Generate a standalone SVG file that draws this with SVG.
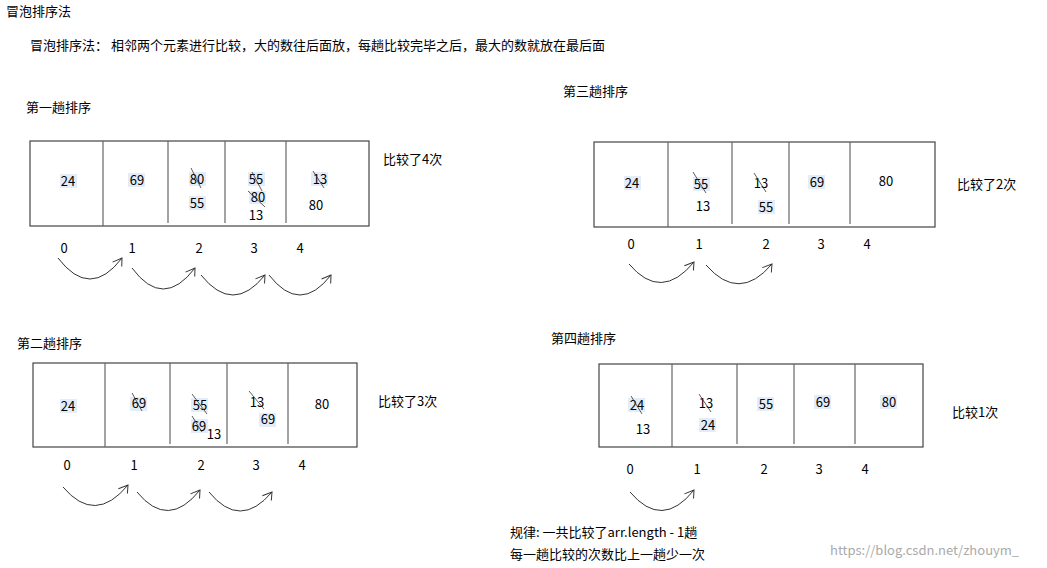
<svg xmlns="http://www.w3.org/2000/svg" width="1047" height="568" viewBox="0 0 1047 568">
<style>
text{font-family:"Noto Sans CJK SC","Liberation Sans",sans-serif;font-size:13px;fill:#000}
.n{font-size:13px;text-anchor:middle}
.h{fill:#e3ecf9}
.box{fill:none;stroke:#444;stroke-width:1.2}
.dv{stroke:#666;stroke-width:1.2}
.s{stroke:#333;stroke-width:0.8}
.arr{fill:none;stroke:#333;stroke-width:1}
.wm{fill:#aaa;font-size:13px}
</style>
<defs>
<marker id="ah" markerWidth="12" markerHeight="12" refX="10" refY="6" orient="auto" markerUnits="userSpaceOnUse">
<path d="M1,1 L10,6 L3,11" fill="none" stroke="#333" stroke-width="1"/>
</marker>
</defs>
<rect width="1047" height="568" fill="#fff"/>
<text x="6" y="16">冒泡排序法</text>
<text x="30" y="50">冒泡排序法： 相邻两个元素进行比较，大的数往后面放，每趟比较完毕之后，最大的数就放在最后面</text>

<g id="trip1">
<text x="26" y="112">第一趟排序</text>
<rect class="box" x="30" y="141" width="339" height="85"/>
<line class="dv" x1="103" y1="141" x2="103" y2="226"/><line class="dv" x1="168" y1="141" x2="168" y2="223"/><line class="dv" x1="225" y1="141" x2="225" y2="223"/><line class="dv" x1="286" y1="141" x2="286" y2="223"/>
<rect class="h" x="60" y="174" width="17" height="14"/><text class="n" x="68" y="186">24</text>
<rect class="h" x="128" y="173" width="17" height="14"/><text class="n" x="137" y="185">69</text>
<rect class="h" x="189" y="172" width="17" height="14"/><text class="n" x="197" y="184">80</text><line class="s" x1="191" y1="168" x2="201" y2="188"/>
<rect class="h" x="189" y="196" width="17" height="14"/><text class="n" x="197" y="208">55</text>
<rect class="h" x="248" y="172" width="17" height="14"/><text class="n" x="256" y="184">55</text><line class="s" x1="252" y1="172" x2="262" y2="191"/>
<rect class="h" x="249" y="191" width="17" height="13"/><text class="n" x="258" y="202">80</text><line class="s" x1="248" y1="191" x2="265" y2="207"/>
<text class="n" x="256" y="220">13</text>
<rect class="h" x="311" y="172" width="17" height="14"/><text class="n" x="320" y="184">13</text><line class="s" x1="313" y1="171" x2="324" y2="188"/>
<text class="n" x="316" y="210">80</text>
<text class="n" x="64" y="253">0</text><text class="n" x="132" y="253">1</text><text class="n" x="199" y="253">2</text><text class="n" x="254" y="253">3</text><text class="n" x="300" y="253">4</text>
<text x="383" y="164">比较了4次</text>
</g>

<g id="trip2">
<text x="17" y="348">第二趟排序</text>
<rect class="box" x="33" y="363" width="324" height="84"/>
<line class="dv" x1="105" y1="363" x2="105" y2="447"/><line class="dv" x1="170" y1="363" x2="170" y2="444"/><line class="dv" x1="227" y1="363" x2="227" y2="444"/><line class="dv" x1="288" y1="363" x2="288" y2="444"/>
<rect class="h" x="60" y="399" width="17" height="14"/><text class="n" x="68" y="411">24</text>
<rect class="h" x="130" y="397" width="17" height="14"/><text class="n" x="139" y="408">69</text><line class="s" x1="132" y1="393" x2="142" y2="411"/>
<rect class="h" x="191" y="398" width="17" height="14"/><text class="n" x="200" y="410">55</text><line class="s" x1="192" y1="394" x2="207" y2="414"/>
<rect class="h" x="191" y="419" width="17" height="14"/><text class="n" x="199" y="431">69</text><line class="s" x1="192" y1="416" x2="202" y2="432"/>
<text class="n" x="214" y="439">13</text>
<text class="n" x="257" y="407">13</text><line class="s" x1="249" y1="391" x2="264" y2="409"/>
<rect class="h" x="259" y="413" width="17" height="14"/><text class="n" x="268" y="424">69</text>
<text class="n" x="322" y="409">80</text>
<text class="n" x="67" y="470">0</text><text class="n" x="134" y="470">1</text><text class="n" x="201" y="470">2</text><text class="n" x="256" y="470">3</text><text class="n" x="302" y="470">4</text>
<text x="378" y="406">比较了3次</text>
</g>

<g id="trip3">
<text x="563" y="96">第三趟排序</text>
<rect class="box" x="594" y="142" width="341" height="85"/>
<line class="dv" x1="668" y1="142" x2="668" y2="227"/><line class="dv" x1="732" y1="142" x2="732" y2="224"/><line class="dv" x1="789" y1="142" x2="789" y2="224"/><line class="dv" x1="850" y1="142" x2="850" y2="224"/>
<rect class="h" x="624" y="176" width="17" height="14"/><text class="n" x="632" y="188">24</text>
<rect class="h" x="693" y="177" width="17" height="14"/><text class="n" x="701" y="189">55</text><line class="s" x1="693" y1="172" x2="706" y2="193"/>
<text class="n" x="703" y="211">13</text>
<text class="n" x="761" y="188">13</text><line class="s" x1="754" y1="173" x2="766" y2="192"/>
<rect class="h" x="758" y="200" width="17" height="14"/><text class="n" x="766" y="212">55</text>
<rect class="h" x="808" y="175" width="17" height="14"/><text class="n" x="817" y="187">69</text>
<text class="n" x="886" y="186">80</text>
<text class="n" x="631" y="249">0</text><text class="n" x="699" y="249">1</text><text class="n" x="766" y="249">2</text><text class="n" x="821" y="249">3</text><text class="n" x="867" y="249">4</text>
<text x="957" y="189">比较了2次</text>
</g>

<g id="trip4">
<text x="551" y="343">第四趟排序</text>
<rect class="box" x="599" y="364" width="324" height="83"/>
<line class="dv" x1="672" y1="364" x2="672" y2="447"/><line class="dv" x1="737" y1="364" x2="737" y2="444"/><line class="dv" x1="794" y1="364" x2="794" y2="444"/><line class="dv" x1="855" y1="364" x2="855" y2="444"/>
<rect class="h" x="628" y="398" width="17" height="14"/><text class="n" x="637" y="410">24</text><line class="s" x1="631" y1="396" x2="642" y2="414"/>
<text class="n" x="643" y="434">13</text>
<text class="n" x="706" y="408">13</text><line class="s" x1="699" y1="394" x2="711" y2="412"/>
<rect class="h" x="699" y="418" width="17" height="14"/><text class="n" x="708" y="430">24</text>
<rect class="h" x="757" y="397" width="17" height="14"/><text class="n" x="766" y="409">55</text>
<rect class="h" x="814" y="395" width="17" height="14"/><text class="n" x="823" y="407">69</text>
<rect class="h" x="880" y="395" width="17" height="14"/><text class="n" x="889" y="407">80</text>
<text class="n" x="630" y="474">0</text><text class="n" x="697" y="474">1</text><text class="n" x="764" y="474">2</text><text class="n" x="819" y="474">3</text><text class="n" x="865" y="474">4</text>
<text x="952" y="417">比较1次</text>
</g>

<g id="connectors">
<path class="arr" marker-end="url(#ah)" d="M58,258 Q90,300 122,258"/>
<path class="arr" marker-end="url(#ah)" d="M132,268 Q163,310 195,268"/>
<path class="arr" marker-end="url(#ah)" d="M201,275 Q233,315 265,275"/>
<path class="arr" marker-end="url(#ah)" d="M269,275 Q300,315 331,275"/>
<path class="arr" marker-end="url(#ah)" d="M63,487 Q95,525 128,485"/>
<path class="arr" marker-end="url(#ah)" d="M137,492 Q168,530 200,490"/>
<path class="arr" marker-end="url(#ah)" d="M209,492 Q240,530 272,492"/>
<path class="arr" marker-end="url(#ah)" d="M629,264 Q661,302 694,262"/>
<path class="arr" marker-end="url(#ah)" d="M706,265 Q739,303 772,264"/>
<path class="arr" marker-end="url(#ah)" d="M630,492 Q662,530 694,490"/>
</g>

<text x="510" y="537">规律: 一共比较了arr.length - 1趟</text>
<text x="510" y="559">每一趟比较的次数比上一趟少一次</text>
<text class="wm" x="830" y="555">https://blog.csdn.net/zhouym_</text>
</svg>
